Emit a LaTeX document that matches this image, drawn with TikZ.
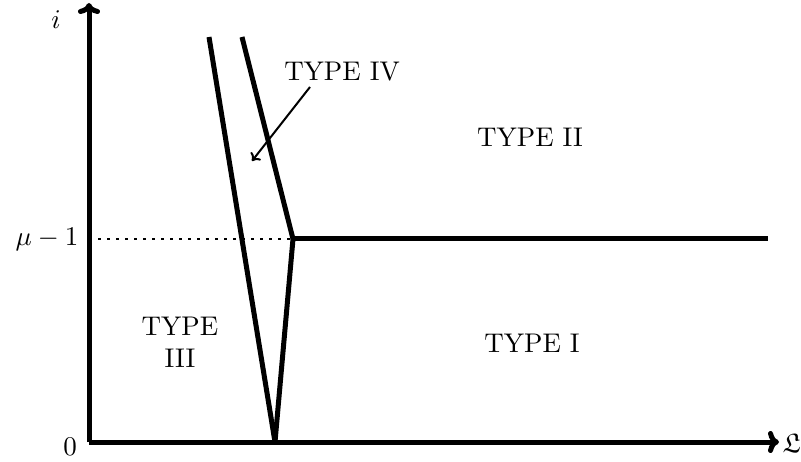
\documentclass[tikz,border=0pt]{standalone}
\usepackage{amssymb}
\usetikzlibrary{arrows.meta}
\begin{document}
\begin{tikzpicture}[x=1pt,y=-1pt,
  thickline/.style={line width=5pt},
  axis/.style={line width=5pt,-{Computer Modern Rightarrow[length=11pt,width=22pt,line width=5pt]}},
  lab/.style={scale=2.7,inner sep=0pt},
  pointer/.style={line width=2pt,-{Computer Modern Rightarrow[length=7pt,width=13pt,line width=2pt]}}]
\useasboundingbox (0,0) rectangle (801,462);
% key points
\coordinate (O) at (89,442);
\coordinate (ytop) at (89,3);
\coordinate (xend) at (779,442);
\coordinate (Ltop) at (209,37);
\coordinate (Rtop) at (242,37);
\coordinate (K) at (293,239);
\coordinate (B) at (275,442);
\coordinate (D0) at (89,239);
\coordinate (Hend) at (768,239);
\coordinate (Pfrom) at (310,87);
\coordinate (Pto) at (252,161);
% axes
\draw[axis] (O) -- (ytop);
\draw[axis] (O) -- (xend);
% boundaries
\draw[line width=2.5pt,dash pattern=on 2.5pt off 6.5pt] (D0) -- (K);
\draw[thickline] (Ltop) -- (B);
\draw[thickline,line join=miter] (Rtop) -- (K) -- (B);
\draw[thickline] (K) -- (Hend);
\draw[pointer] (Pfrom) -- (Pto);
% labels
\node[lab] (li) at (56,20) {$i$};
\node[lab,anchor=east] (lmu) at (79,239) {$\mu-1$};
\node[lab] (lzero) at (70,447) {$0$};
\node[lab,anchor=west] (lL) at (782,443) {$\mathfrak{L}$};
\node[lab] (t4) at (342,72) {TYPE IV};
\node[lab] (t2) at (530,137) {TYPE II};
\node[lab] (t1) at (532,343) {TYPE I};
\node[lab,align=center] (t3) at (180,342) {TYPE\\III};
\end{tikzpicture}
\end{document}
